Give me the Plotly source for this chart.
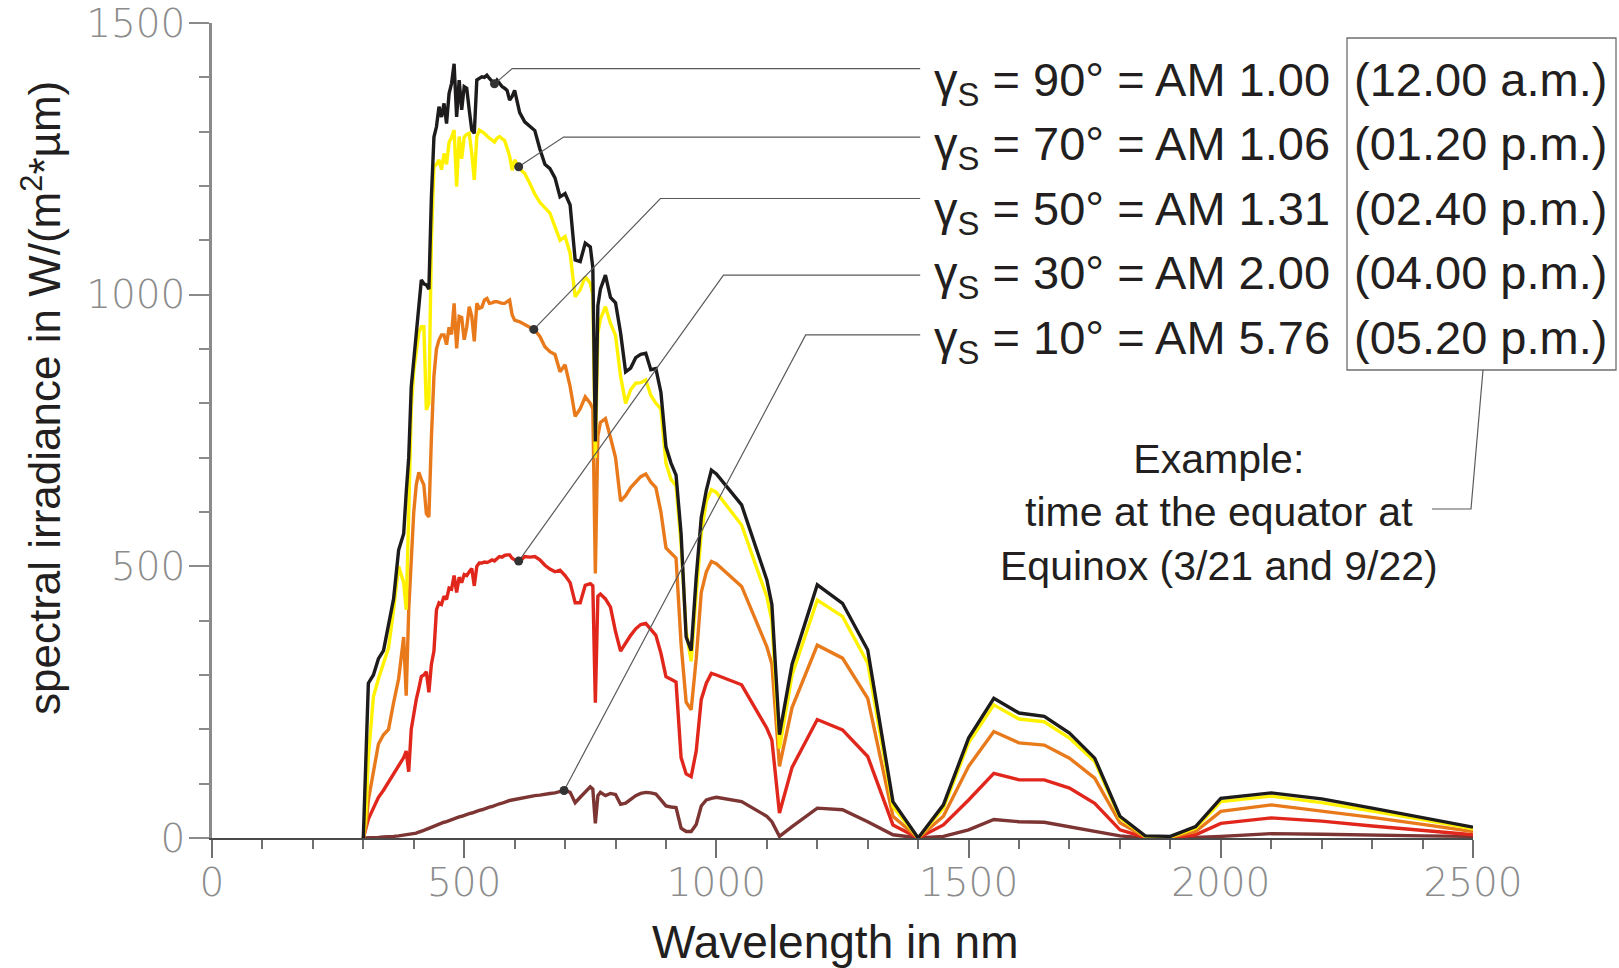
import numpy as np
import plotly.graph_objects as go

# ---------------- data ----------------
wavelength_nm = [300, 305, 310, 320, 330, 340, 350, 360, 370, 380,
                 385, 390, 395, 400, 405, 410, 415, 420, 425, 430,
                 435, 440, 445, 450, 455, 460, 465, 470, 475, 480,
                 485, 490, 495, 500, 505, 510, 515, 520, 525, 530,
                 535, 540, 545, 550, 555, 560, 565, 570, 575, 580,
                 585, 590, 595, 600, 610, 620, 630, 640, 650, 660,
                 670, 680, 690, 700, 710, 720, 730, 740, 750, 755,
                 760, 765, 770, 780, 790, 800, 810, 820, 830, 840,
                 850, 860, 870, 880, 890, 900, 910, 920, 930, 940,
                 950, 960, 970, 980, 990, 1000, 1050, 1100, 1110, 1125,
                 1150, 1200, 1250, 1300, 1350, 1400, 1450, 1500, 1550, 1600,
                 1650, 1700, 1750, 1800, 1850, 1900, 1950, 2000, 2100, 2200,
                 2300, 2400, 2500]

am100 = [0, 160, 285, 300, 330, 345, 390, 440, 530, 560,
         635, 700, 830, 880, 940, 990, 1027, 1020, 1018, 1010,
         1180, 1290, 1309, 1346, 1327, 1352, 1315, 1370, 1389, 1425,
         1327, 1395, 1340, 1383, 1380, 1340, 1303, 1297, 1395, 1398,
         1401, 1400, 1404, 1398, 1392, 1388, 1395, 1388, 1383, 1380,
         1376, 1358, 1365, 1376, 1335, 1318, 1309, 1302, 1268, 1240,
         1232, 1215, 1180, 1186, 1165, 1064, 1061, 1095, 1088, 1050,
         730, 980, 1010, 1036, 995, 985, 930, 858, 865, 884,
         890, 892, 862, 864, 820, 720, 690, 668, 560, 370,
         345, 480, 590, 640, 677, 670, 613, 475, 430, 190,
         320, 466, 432, 346, 67, 0, 61, 184, 257, 230,
         224, 193, 147, 40, 4, 3, 21, 73, 83, 72,
         55, 38, 20]

am106 = [0, 40, 150, 260, 293, 320, 350, 420, 500, 470,
         420, 597, 790, 860, 900, 930, 941, 941, 788, 800,
         1100, 1235, 1240, 1248, 1230, 1260, 1240, 1280, 1290, 1303,
         1199, 1291, 1250, 1290, 1295, 1297, 1260, 1211, 1291, 1303,
         1300, 1297, 1292, 1288, 1285, 1281, 1288, 1291, 1287, 1284,
         1270, 1255, 1229, 1248, 1232, 1223, 1205, 1185, 1170, 1160,
         1150, 1125, 1100, 1107, 1076, 996, 1009, 1033, 1021, 1000,
         700, 930, 955, 978, 947, 925, 850, 800, 825, 837,
         838, 843, 815, 800, 790, 690, 660, 648, 540, 380,
         325, 450, 560, 620, 641, 636, 576, 444, 400, 165,
         300, 438, 408, 322, 58, 0, 55, 175, 245, 219,
         214, 184, 141, 37, 3, 2, 18, 67, 77, 65,
         50, 34, 17]

am131 = [0, 20, 70, 120, 173, 190, 200, 249, 293, 370,
         262, 420, 520, 600, 650, 673, 660, 650, 597, 591,
         737, 850, 900, 917, 926, 926, 908, 940, 927, 984,
         901, 960, 958, 917, 940, 978, 960, 914, 984, 975,
         977, 990, 993, 984, 985, 987, 987, 985, 984, 984,
         988, 990, 963, 953, 950, 945, 940, 935, 923, 904,
         895, 890, 858, 871, 831, 776, 790, 812, 800, 790,
         487, 740, 765, 772, 737, 700, 620, 630, 645, 655,
         665, 670, 655, 645, 600, 534, 525, 515, 357, 250,
         236, 330, 452, 490, 509, 505, 463, 352, 320, 132,
         240, 355, 331, 257, 40, 0, 40, 132, 196, 175,
         171, 147, 110, 28, 2, 1, 12, 49, 61, 50,
         38, 25, 12]

am200 = [0, 15, 35, 55, 75, 88, 103, 120, 135, 148,
         160, 122, 200, 230, 255, 275, 297, 300, 306, 268,
         320, 344, 420, 433, 430, 445, 439, 460, 458, 483,
         452, 480, 470, 485, 483, 490, 496, 464, 500, 506,
         506, 508, 507, 509, 512, 510, 515, 518, 517, 520,
         521, 521, 515, 512, 509, 518, 517, 518, 512, 502,
         495, 490, 493, 483, 470, 433, 433, 465, 468, 464,
         249, 445, 449, 440, 425, 380, 344, 360, 373, 385,
         393, 395, 385, 373, 340, 297, 292, 287, 148, 118,
         113, 160, 255, 285, 303, 300, 282, 202, 180, 46,
         130, 218, 199, 150, 24, 0, 24, 70, 119, 107,
         107, 92, 64, 15, 1, 0, 6, 27, 37, 31,
         22, 14, 6]

am576 = [0, 0, 0, 1, 1, 2, 2, 3, 4, 5,
         6, 6, 7, 8, 9, 11, 12, 14, 16, 18,
         20, 22, 24, 26, 27, 29, 30, 32, 34, 36,
         37, 39, 40, 42, 43, 45, 46, 48, 49, 51,
         52, 54, 55, 57, 58, 60, 61, 63, 64, 66,
         67, 69, 70, 71, 73, 75, 77, 78, 79, 81,
         82, 83, 85, 88, 84, 65, 75, 85, 94, 90,
         27, 78, 84, 78, 82, 80, 62, 64, 72, 78,
         82, 84, 83, 81, 70, 59, 57, 56, 18, 12,
         12, 25, 59, 70, 73, 75, 67, 40, 30, 3,
         21, 55, 52, 30, 6, 0, 3, 15, 34, 30,
         29, 21, 12, 4, 0, 0, 1, 3, 8, 7,
         5, 4, 3]

series_names = ["AM 1.00", "AM 1.06", "AM 1.31", "AM 2.00", "AM 5.76"]
series_values = [am100, am106, am131, am200, am576]
series_colors = ["#1d1b1b", "#fff200", "#e97a1c", "#e1261c", "#7c3532"]

label_left = ["γ<sub>S</sub> = 90° = AM 1.00",
              "γ<sub>S</sub> = 70° = AM 1.06",
              "γ<sub>S</sub> = 50° = AM 1.31",
              "γ<sub>S</sub> = 30° = AM 2.00",
              "γ<sub>S</sub> = 10° = AM 5.76"]
label_time = ["(12.00 a.m.)", "(01.20 p.m.)", "(02.40 p.m.)",
              "(04.00 p.m.)", "(05.20 p.m.)"]

x_ticks = [0, 500, 1000, 1500, 2000, 2500]
y_ticks = [0, 500, 1000, 1500]

# annotation anchors (wavelength where each leader touches its curve)
leader_wl = [560, 608, 638, 608, 698]
leader_elbow = [(595, 1416), (697, 1290), (889, 1177), (1014, 1036), (1177, 926)]
leader_end_wl = 1404

# ---------------- layout geometry ----------------
L, T, W, H = 212, 23, 1261, 815
FIG_W, FIG_H = 1619, 968


def pxx(x):
    return (x - L) / W


def pxy(y):
    return (T + H - y) / H


fig = go.Figure()

# draw from the back (lowest) to the front (AM 1.00 on top)
for name, vals, col in list(zip(series_names, series_values, series_colors))[::-1]:
    fig.add_trace(go.Scatter(x=wavelength_nm, y=vals, mode="lines", name=name,
                             line=dict(color=col, width=3.4), cliponaxis=False,
                             hoverinfo="x+y+name"))

shapes = []
lead_col = "#5a5a5a"
for i, vals in enumerate(series_values):
    wx = leader_wl[i]
    wy = float(np.interp(wx, wavelength_nm, vals))
    ex, ey = leader_elbow[i]
    shapes.append(dict(type="path", xref="x", yref="y",
                       path=f"M {wx},{wy} L {ex},{ey} L {leader_end_wl},{ey}",
                       line=dict(color=lead_col, width=1.2)))
    shapes.append(dict(type="circle", xref="x", yref="y",
                       xsizemode="pixel", ysizemode="pixel",
                       xanchor=wx, yanchor=wy, x0=-4.5, x1=4.5, y0=-4.5, y1=4.5,
                       fillcolor="#333333", line=dict(color="#333333", width=0)))

# box around the times
shapes.append(dict(type="rect", xref="paper", yref="paper",
                   x0=pxx(1347), x1=pxx(1616), y0=pxy(370), y1=pxy(38),
                   line=dict(color="#6e6e6e", width=1.3)))
# leader from box to example text
shapes.append(dict(type="path", xref="paper", yref="paper",
                   path=f"M {pxx(1483)},{pxy(370)} L {pxx(1471)},{pxy(509)} L {pxx(1432)},{pxy(509)}",
                   line=dict(color=lead_col, width=1.2)))

annotations = []
label_font = dict(family="Liberation Sans, Arial, sans-serif", size=47, color="#231f20")
row_y = [79, 143, 208, 272, 337]
for i in range(5):
    annotations.append(dict(xref="paper", yref="paper", x=pxx(932), y=pxy(row_y[i] + 3.5),
                            text=label_left[i], showarrow=False, xanchor="left",
                            yanchor="middle", font=label_font))
    annotations.append(dict(xref="paper", yref="paper", x=pxx(1352), y=pxy(row_y[i]),
                            text=label_time[i], showarrow=False, xanchor="left",
                            yanchor="middle", font=label_font))

annotations.append(dict(xref="paper", yref="paper", x=pxx(1219), y=pxy(512),
                        text="Example:<br>time at the equator at<br>Equinox (3/21 and 9/22)",
                        showarrow=False, xanchor="center", yanchor="middle", align="center",
                        font=dict(family="Liberation Sans, Arial, sans-serif", size=41,
                                  color="#231f20")))

# axis titles
annotations.append(dict(xref="paper", yref="paper", x=pxx(835), y=pxy(942),
                        text="Wavelength in nm", showarrow=False, xanchor="center",
                        yanchor="middle",
                        font=dict(family="Liberation Sans, Arial, sans-serif", size=46,
                                  color="#231f20")))
annotations.append(dict(xref="paper", yref="paper", x=pxx(41), y=pxy(398),
                        text="spectral irradiance in W/(m<sup>2</sup>*µm)", textangle=-90,
                        showarrow=False, xanchor="center", yanchor="middle",
                        font=dict(family="Liberation Sans, Arial, sans-serif", size=44,
                                  color="#231f20")))

tick_font = dict(family="DejaVu Sans ExtraLight, DejaVu Sans, sans-serif", size=39,
                 color="#8c8c8c", weight=200)

fig.update_layout(
    width=FIG_W, height=FIG_H,
    margin=dict(l=L, r=FIG_W - L - W, t=T, b=FIG_H - T - H, pad=0, autoexpand=False),
    paper_bgcolor="white", plot_bgcolor="white",
    showlegend=False,
    shapes=shapes, annotations=annotations,
    xaxis=dict(range=[0, 2500], tickvals=x_ticks, ticktext=[str(v) for v in x_ticks],
               ticks="outside", ticklen=18, tickwidth=2, tickcolor="#707070",
               showline=True, linecolor="#4a4a4a", linewidth=2,
               showgrid=False, zeroline=False, tickfont=tick_font, automargin=False,
               ticklabelstandoff=-9,
               minor=dict(dtick=100, tick0=0, ticks="outside", ticklen=9, tickwidth=1.5,
                          tickcolor="#707070", showgrid=False)),
    yaxis=dict(range=[0, 1500], tickvals=y_ticks, ticktext=[str(v) for v in y_ticks],
               ticks="outside", ticklen=20, tickwidth=2, tickcolor="#8a8a8a",
               showline=True, linecolor="#8a8a8a", linewidth=2.5,
               showgrid=False, zeroline=False, tickfont=tick_font, automargin=False,
               ticklabelstandoff=-4,
               minor=dict(dtick=100, tick0=0, ticks="outside", ticklen=10, tickwidth=1.5,
                          tickcolor="#8a8a8a", showgrid=False)),
)

fig.write_html("out.html", include_plotlyjs=True, full_html=True,
               config={"responsive": False, "displayModeBar": False},
               post_script="document.body.style.margin='0';")
